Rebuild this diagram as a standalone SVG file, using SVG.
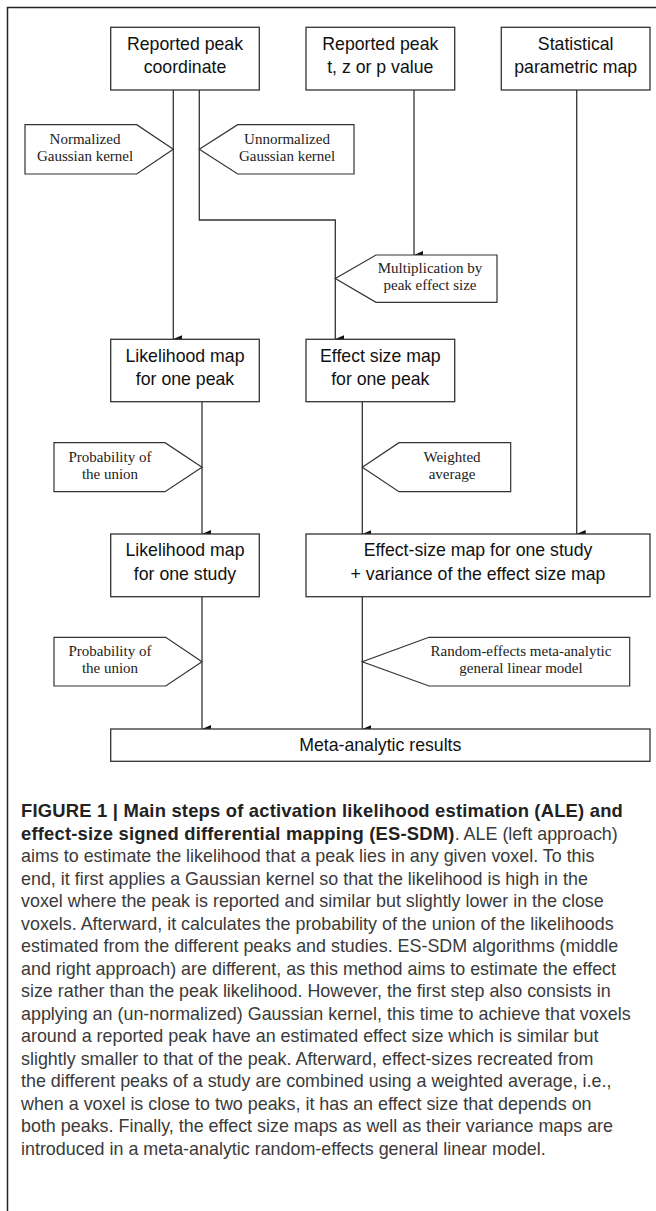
<svg xmlns="http://www.w3.org/2000/svg" width="656" height="1211" viewBox="0 0 656 1211">
<style>
.box{fill:#fff;stroke:#333;stroke-width:1.3}
.flag{fill:#fff;stroke:#333;stroke-width:1.2}
.bt{font-family:"Liberation Sans",Arial,sans-serif;font-size:17.7px;fill:#111;text-anchor:middle}
.ft{font-family:"Liberation Serif","Times New Roman",serif;font-size:15px;fill:#222;text-anchor:middle}
.cn{fill:none;stroke:#333;stroke-width:1.3}
.cap{font-family:"Liberation Sans",Arial,sans-serif;font-size:17.9px;fill:#3a3a3a}
.capb{font-weight:bold;fill:#222;font-size:18.4px;letter-spacing:0.2px}
</style>
<defs>
<marker id="ah" markerWidth="8" markerHeight="9" refX="4" refY="9" orient="auto-start-reverse" markerUnits="userSpaceOnUse" viewBox="0 0 8 9">
<path d="M0,0 L8,0 L4,9 Z" fill="#111"/>
</marker>
</defs>
<rect x="0" y="0" width="656" height="1211" fill="#fff"/>
<path d="M7.5,1211 V7.5 H656" fill="none" stroke="#222" stroke-width="1.5"/>

<g id="connectors">
<path class="cn" d="M173.3,90 V339" marker-end="url(#ah)"/>
<path class="cn" d="M199.3,90 V220 H335.3 V339" marker-end="url(#ah)"/>
<path class="cn" d="M414,90 V255" marker-end="url(#ah)"/>
<path class="cn" d="M576.7,90 V534" marker-end="url(#ah)"/>
<path class="cn" d="M202,401.7 V534" marker-end="url(#ah)"/>
<path class="cn" d="M362.3,401.7 V534" marker-end="url(#ah)"/>
<path class="cn" d="M202,596.7 V729" marker-end="url(#ah)"/>
<path class="cn" d="M362.3,596.7 V729" marker-end="url(#ah)"/>
</g>

<g id="n-peak-coord">
<rect class="box" x="110.7" y="27.3" width="148.6" height="62.7"/>
<text class="bt" x="185" y="49.5">Reported peak</text>
<text class="bt" x="185" y="72.8">coordinate</text>
</g>
<g id="n-peak-value">
<rect class="box" x="306" y="27.3" width="148.7" height="62.7"/>
<text class="bt" x="380.3" y="49.5">Reported peak</text>
<text class="bt" x="380.3" y="72.8">t, z or p value</text>
</g>
<g id="n-spm">
<rect class="box" x="501.3" y="27.3" width="148.7" height="62.7"/>
<text class="bt" x="575.7" y="49.5">Statistical</text>
<text class="bt" x="575.7" y="72.8">parametric map</text>
</g>

<g id="f-normalized">
<path class="flag" d="M25,124.7 H136.7 L173.3,149.3 L136.7,174 H25 Z"/>
<text class="ft" x="85" y="144">Normalized</text>
<text class="ft" x="85" y="160.7">Gaussian kernel</text>
</g>
<g id="f-unnormalized">
<path class="flag" d="M354,124.7 H237.7 L199.3,149.3 L237.7,174 H354 Z"/>
<text class="ft" x="287" y="144">Unnormalized</text>
<text class="ft" x="287" y="160.7">Gaussian kernel</text>
</g>
<g id="f-multiplication">
<path class="flag" d="M497,255 H376 L335.3,278.5 L376,302.3 H497 Z"/>
<text class="ft" x="430" y="273.3">Multiplication by</text>
<text class="ft" x="430" y="290">peak effect size</text>
</g>

<g id="n-lik-peak">
<rect class="box" x="110.7" y="339.3" width="148.6" height="62.4"/>
<text class="bt" x="185" y="361.6">Likelihood map</text>
<text class="bt" x="185" y="384.8">for one peak</text>
</g>
<g id="n-es-peak">
<rect class="box" x="306" y="339.3" width="148.7" height="62.4"/>
<text class="bt" x="380.3" y="361.6">Effect size map</text>
<text class="bt" x="380.3" y="384.8">for one peak</text>
</g>

<g id="f-prob1">
<path class="flag" d="M54,442.7 H165 L202,467.2 L165,491.7 H54 Z"/>
<text class="ft" x="110" y="461.9">Probability of</text>
<text class="ft" x="110" y="478.6">the union</text>
</g>
<g id="f-weighted">
<path class="flag" d="M510.7,442.7 H399 L362.3,467.2 L399,491.7 H510.7 Z"/>
<text class="ft" x="452" y="461.9">Weighted</text>
<text class="ft" x="452" y="478.6">average</text>
</g>

<g id="n-lik-study">
<rect class="box" x="110.7" y="534" width="148.6" height="62.7"/>
<text class="bt" x="185" y="556.3">Likelihood map</text>
<text class="bt" x="185" y="579.6">for one study</text>
</g>
<g id="n-es-study">
<rect class="box" x="306" y="534" width="344" height="62.7"/>
<text class="bt" x="478" y="556.3">Effect-size map for one study</text>
<text class="bt" x="478" y="579.6">+ variance of the effect size map</text>
</g>

<g id="f-prob2">
<path class="flag" d="M54,637.3 H165.7 L202,661.7 L165.7,686 H54 Z"/>
<text class="ft" x="110" y="656.4">Probability of</text>
<text class="ft" x="110" y="673.1">the union</text>
</g>
<g id="f-random">
<path class="flag" d="M629.7,637.3 H429 L362.3,661.7 L429,686 H629.7 Z"/>
<text class="ft" x="521" y="656.4">Random-effects meta-analytic</text>
<text class="ft" x="521" y="673.1">general linear model</text>
</g>

<g id="n-results">
<rect class="box" x="110.7" y="729" width="539.3" height="32.3"/>
<text class="bt" x="380.3" y="751.3">Meta-analytic results</text>
</g>

<g id="caption" class="cap">
<text x="21" y="817"><tspan class="capb">FIGURE 1 | Main steps of activation likelihood estimation (ALE) and</tspan></text>
<text x="21" y="839.5"><tspan class="capb">effect-size signed differential mapping (ES-SDM)</tspan>. ALE (left approach)</text>
<text x="21" y="862">aims to estimate the likelihood that a peak lies in any given voxel. To this</text>
<text x="21" y="884.5">end, it first applies a Gaussian kernel so that the likelihood is high in the</text>
<text x="21" y="907">voxel where the peak is reported and similar but slightly lower in the close</text>
<text x="21" y="929.5">voxels. Afterward, it calculates the probability of the union of the likelihoods</text>
<text x="21" y="952">estimated from the different peaks and studies. ES-SDM algorithms (middle</text>
<text x="21" y="974.5">and right approach) are different, as this method aims to estimate the effect</text>
<text x="21" y="997">size rather than the peak likelihood. However, the first step also consists in</text>
<text x="21" y="1019.5">applying an (un-normalized) Gaussian kernel, this time to achieve that voxels</text>
<text x="21" y="1042">around a reported peak have an estimated effect size which is similar but</text>
<text x="21" y="1064.5">slightly smaller to that of the peak. Afterward, effect-sizes recreated from</text>
<text x="21" y="1087">the different peaks of a study are combined using a weighted average, i.e.,</text>
<text x="21" y="1109.5">when a voxel is close to two peaks, it has an effect size that depends on</text>
<text x="21" y="1132">both peaks. Finally, the effect size maps as well as their variance maps are</text>
<text x="21" y="1154.5">introduced in a meta-analytic random-effects general linear model.</text>
</g>
</svg>
